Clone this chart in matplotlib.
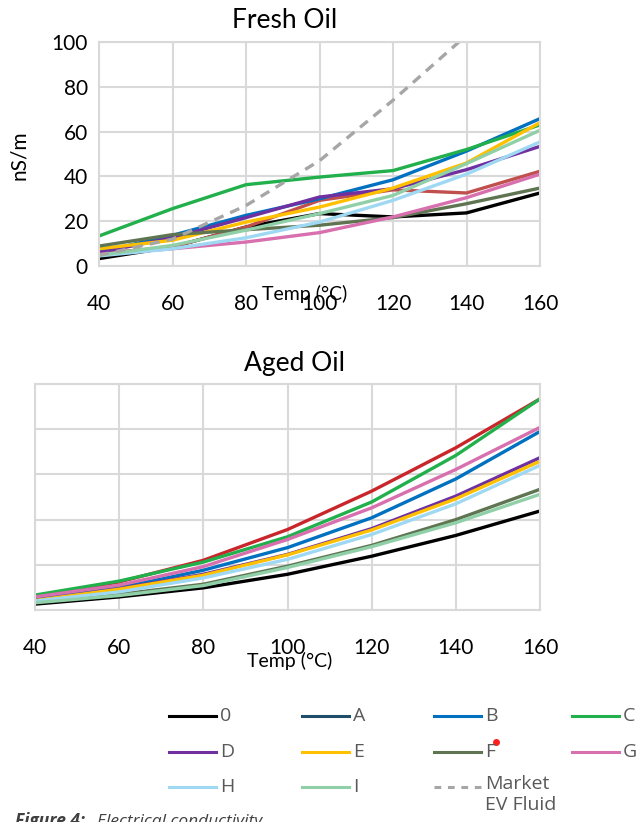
import matplotlib
matplotlib.use("Agg")
import matplotlib.pyplot as plt
from matplotlib.lines import Line2D

plt.rcParams['font.family'] = ['Lato', 'DejaVu Sans']

W, H = 638, 822

temps = [40, 60, 80, 100, 120, 140, 160]
names = ['0', 'A', 'B', 'C', 'D', 'E', 'F', 'G', 'H', 'I', 'Market\nEV Fluid']

# fresh oil, nS/m
fresh_0 = [3.3, 8.5, 17.4, 23.4, 21.9, 23.7, 32.6]
fresh_A = [5.5, 8.5, 17.4, 29.3, 34.0, 32.6, 42.3]
fresh_B = [6.2, 13.7, 22.6, 30.0, 38.5, 51.3, 65.8]
fresh_C = [13.4, 25.6, 36.3, 39.7, 42.6, 52.0, 63.0]
fresh_D = [6.0, 12.6, 21.6, 30.8, 34.5, 43.0, 53.4]
fresh_E = [7.7, 11.5, 19.6, 26.3, 34.8, 46.0, 64.0]
fresh_F = [8.9, 14.0, 16.2, 18.2, 21.6, 27.8, 34.8]
fresh_G = [5.2, 7.7, 10.7, 14.9, 21.9, 30.5, 41.0]
fresh_H = [4.5, 7.7, 12.6, 19.6, 29.3, 41.0, 55.4]
fresh_I = [4.8, 9.2, 16.0, 23.4, 31.5, 45.7, 60.6]
fresh_mkt = [4.8, 12.0, 27.0, 47.0, 74.0, 103.0, 135.0]

# aged oil (no axis values shown)
aged_0 = [1.3, 2.9, 4.9, 7.9, 11.9, 16.5, 21.9]
aged_A = [3.1, 6.2, 11.0, 17.8, 26.3, 35.9, 46.7]
aged_B = [2.6, 4.9, 8.8, 13.8, 20.4, 29.0, 39.5]
aged_C = [3.3, 6.4, 10.6, 16.2, 23.9, 34.2, 46.7]
aged_D = [2.1, 4.7, 7.9, 12.3, 18.0, 25.2, 33.7]
aged_E = [2.1, 4.6, 7.7, 12.2, 17.7, 24.6, 32.9]
aged_F = [1.8, 3.5, 5.7, 9.7, 14.3, 20.0, 26.7]
aged_G = [2.9, 5.5, 9.6, 15.6, 22.6, 31.1, 40.4]
aged_H = [2.0, 4.0, 7.1, 11.2, 16.7, 23.5, 32.0]
aged_I = [1.6, 3.2, 5.4, 9.4, 14.0, 19.3, 25.6]

fresh = [fresh_0, fresh_A, fresh_B, fresh_C, fresh_D, fresh_E, fresh_F,
         fresh_G, fresh_H, fresh_I, fresh_mkt]
aged = [aged_0, aged_A, aged_B, aged_C, aged_D, aged_E, aged_F,
        aged_G, aged_H, aged_I]

colors = ['#000000', '#C0504D', '#0070C0', '#21B04B', '#7030A0', '#FFC000',
          '#5F7552', '#D86FAE', '#9FD8F2', '#90D0A8', '#A6A6A6']
aged_colors = list(colors)
aged_colors[1] = '#C8262A'
legend_colors = list(colors)
legend_colors[1] = '#1F4E6B'

grid_c = '#D9D9D9'


def fx(px):
    return px / W


def fy(py):
    return 1 - py / H


def style(ax):
    ax.set_xlim(40, 160)
    ax.set_xticks(temps)
    ax.grid(True, color=grid_c, lw=1.5)
    ax.set_axisbelow(True)
    for s in ax.spines.values():
        s.set_color(grid_c)
        s.set_linewidth(1.5)
    ax.tick_params(length=0, labelsize=15, pad=20)


fig = plt.figure(figsize=(W / 100, H / 100), dpi=100)

# Fresh oil
ax1 = fig.add_axes([fx(99), fy(266), fx(441), 224 / H])
style(ax1)
for i, vals in enumerate(fresh):
    ls = (0, (3, 2.2)) if i == 10 else '-'
    ax1.plot(temps, vals, color=colors[i], lw=2.4, ls=ls)
ax1.set_ylim(0, 100)
ax1.set_yticks([0, 20, 40, 60, 80, 100])
ax1.tick_params(axis='y', pad=8)
fig.text(fx(285), fy(20), 'Fresh Oil', ha='center', va='center', fontsize=19)
fig.text(fx(19), fy(155), 'nS/m', ha='center', va='center', rotation=90, fontsize=15)
fig.text(fx(305), fy(294), 'Temp (°C)', ha='center', va='center', fontsize=14)

# Aged oil
ax2 = fig.add_axes([fx(35), fy(610), fx(505), 226 / H])
style(ax2)
for i, vals in enumerate(aged):
    ax2.plot(temps, vals, color=aged_colors[i], lw=2.4)
ax2.set_ylim(0, 50)
ax2.set_yticks([0, 10, 20, 30, 40, 50])
ax2.set_yticklabels([])
fig.text(fx(294), fy(363), 'Aged Oil', ha='center', va='center', fontsize=19)
fig.text(fx(290), fy(661), 'Temp (°C)', ha='center', va='center', fontsize=14)

# legend drawn by hand, 4 per row
col_x = [169, 302, 434, 572]
row_y = [716, 752, 787]
lfont = ['Open Sans', 'DejaVu Sans']
for k, name in enumerate(names):
    r, c = divmod(k, 4)
    x0, y0 = col_x[c], row_y[r]
    ls = (0, (2.2, 2.2)) if k == 10 else '-'
    fig.add_artist(Line2D([fx(x0), fx(x0 + 47)], [fy(y0), fy(y0)],
                          color=legend_colors[k], lw=2.2, ls=ls))
    if k == 10:
        fig.text(fx(x0 + 51), fy(y0 - 12), name, ha='left', va='top', fontsize=14,
                 color='#595959', family=lfont, linespacing=1.2)
    else:
        fig.text(fx(x0 + 51), fy(y0), name, ha='left', va='center', fontsize=14,
                 color='#595959', family=lfont)

fig.add_artist(Line2D([fx(496)], [fy(742)], marker='o', ms=4, color='#FF2020', lw=0))

fig.text(fx(15), fy(826), 'Figure 4:', fontsize=12.5, weight='bold', style='italic',
         color='#404040', va='baseline', family=lfont)
fig.text(fx(97), fy(826), 'Electrical conductivity', fontsize=12.5, style='italic',
         color='#404040', va='baseline', family=lfont)

fig.savefig('out.png', dpi=100)
